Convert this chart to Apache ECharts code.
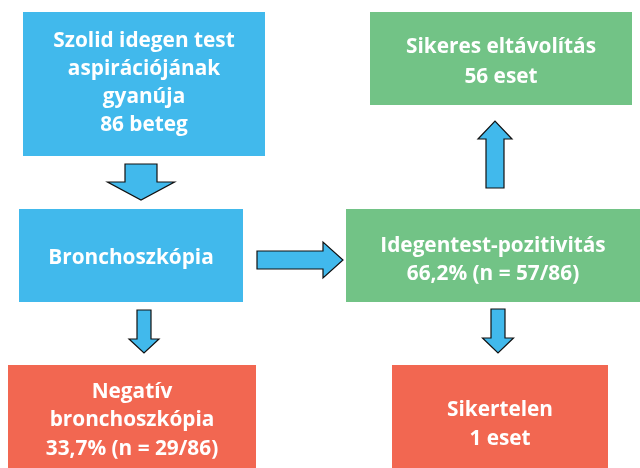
<!DOCTYPE html>
<html>
<head>
<meta charset="utf-8">
<script src="https://cdn.jsdelivr.net/npm/echarts@6/dist/echarts.min.js"></script>
<style>html,body{margin:0;padding:0;background:#fff}#c{width:640px;height:468px}</style>
</head>
<body>
<div id="c"></div>
<script>
// Flowchart content
const boxTexts = [
  'Szolid idegen test\naspirációjának\ngyanúja\n86 beteg',
  'Bronchoszkópia',
  'Idegentest-pozitivitás\n66,2% (n = 57/86)',
  'Sikeres eltávolítás\n56 eset',
  'Negatív\nbronchoszkópia\n33,7% (n = 29/86)',
  'Sikertelen\n1 eset'
];
const boxKinds = ['start', 'start', 'positive', 'positive', 'negative', 'negative'];
// arrows: [fromBoxIndex, toBoxIndex]
const links = [[0, 1], [1, 2], [2, 3], [1, 4], [2, 5]];

// Layout (pixel space of the 640x468 canvas)
const boxLayout = [
  [23, 12, 265, 156],
  [19, 209, 243, 302],
  [346, 209, 640, 302],
  [370, 12, 632, 105],
  [8, 365, 256, 468],
  [392, 365, 608, 468]
];
// text vertical offset and line height per box
const textLayout = [
  [-1, 28],
  [3, 28],
  [5, 28],
  [4, 30],
  [4, 28.5],
  [8, 29]
];
// tail x, tail y, tip x, tip y, shaft width, head width, head length
const arrowLayout = [
  [141, 164, 141, 200, 32, 67, 18],
  [257, 260, 343, 260, 18, 36, 20],
  [495, 188, 495, 121, 18, 34, 18],
  [144, 310, 144, 353, 14, 30, 14],
  [498, 309, 498, 353, 14, 31, 15]
];
const kindColors = { start: '#41b9ec', positive: '#72c386', negative: '#f26751' };
const FONT = 'bold 20.8px "Open Sans", "Noto Sans", sans-serif';

const chart = echarts.init(document.getElementById('c'), null, { renderer: 'canvas' });

const boxData = boxTexts.map((t, i) => ({ value: boxLayout[i], name: t, kind: boxKinds[i] }));
const arrowData = links.map((l, i) => ({ value: arrowLayout[i], name: l.join('-') }));

chart.setOption({
  animation: false,
  grid: { left: 0, right: 0, top: 0, bottom: 0 },
  xAxis: { type: 'value', min: 0, max: 640, show: false },
  yAxis: { type: 'value', min: 0, max: 468, inverse: true, show: false },
  series: [
    {
      type: 'custom',
      coordinateSystem: 'cartesian2d',
      data: boxData,
      encode: { x: [0, 2], y: [1, 3] },
      renderItem: function (params, api) {
        const i = params.dataIndex;
        const d = boxData[i];
        const p0 = api.coord([api.value(0), api.value(1)]);
        const p1 = api.coord([api.value(2), api.value(3)]);
        const cx = (p0[0] + p1[0]) / 2, cy = (p0[1] + p1[1]) / 2;
        return {
          type: 'group',
          children: [
            { type: 'rect', shape: { x: p0[0], y: p0[1], width: p1[0] - p0[0], height: p1[1] - p0[1] },
              style: { fill: kindColors[d.kind] } },
            { type: 'text', x: cx, y: cy + textLayout[i][0],
              style: { text: d.name, fill: '#fff', font: FONT, align: 'center', verticalAlign: 'middle', lineHeight: textLayout[i][1] } }
          ]
        };
      }
    },
    {
      type: 'custom',
      coordinateSystem: 'cartesian2d',
      data: arrowData,
      encode: { x: [0, 2], y: [1, 3] },
      renderItem: function (params, api) {
        const t = api.coord([api.value(0), api.value(1)]);
        const h = api.coord([api.value(2), api.value(3)]);
        const sw = api.value(4) / 2, hw = api.value(5) / 2, hl = api.value(6);
        const dx = h[0] - t[0], dy = h[1] - t[1];
        const len = Math.sqrt(dx * dx + dy * dy);
        const ux = dx / len, uy = dy / len;
        const nx = -uy, ny = ux;
        const bx = h[0] - ux * hl, by = h[1] - uy * hl;
        const pts = [
          [t[0] + nx * sw, t[1] + ny * sw],
          [bx + nx * sw, by + ny * sw],
          [bx + nx * hw, by + ny * hw],
          [h[0], h[1]],
          [bx - nx * hw, by - ny * hw],
          [bx - nx * sw, by - ny * sw],
          [t[0] - nx * sw, t[1] - ny * sw]
        ];
        return { type: 'polygon', shape: { points: pts },
          style: { fill: '#41b9ec', stroke: '#111', lineWidth: 1.2 } };
      }
    }
  ]
});
</script>
</body>
</html>
